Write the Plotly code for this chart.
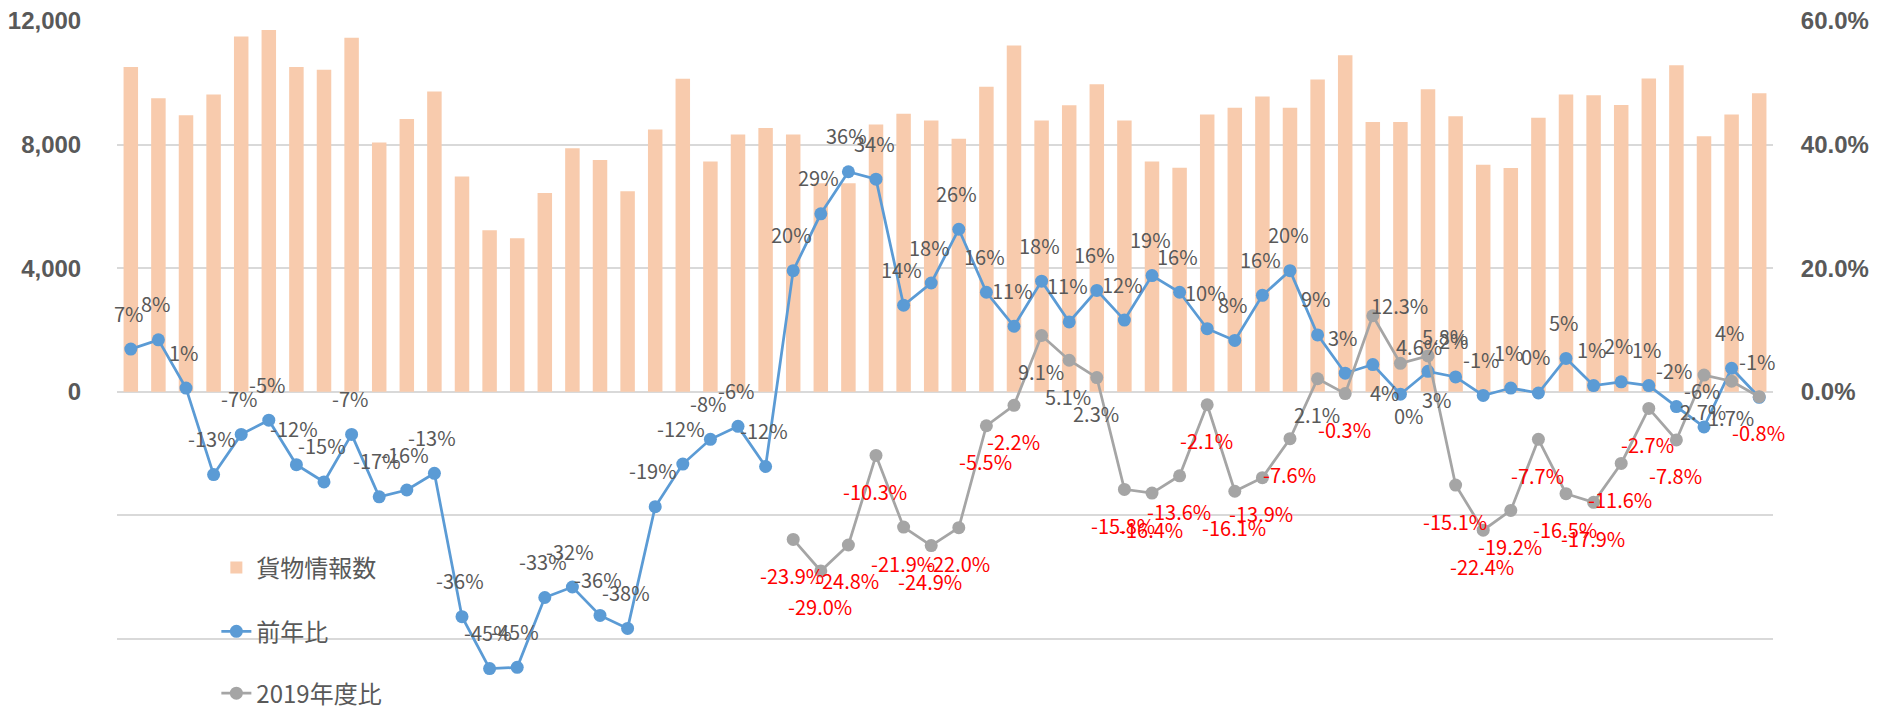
import plotly.graph_objects as go

# ---------------- data ----------------
months = [
    "2019/4", "2019/5", "2019/6", "2019/7", "2019/8", "2019/9", "2019/10", "2019/11", "2019/12", "2020/1", "2020/2", "2020/3",
    "2020/4", "2020/5", "2020/6", "2020/7", "2020/8", "2020/9", "2020/10", "2020/11", "2020/12", "2021/1", "2021/2", "2021/3",
    "2021/4", "2021/5", "2021/6", "2021/7", "2021/8", "2021/9", "2021/10", "2021/11", "2021/12", "2022/1", "2022/2", "2022/3",
    "2022/4", "2022/5", "2022/6", "2022/7", "2022/8", "2022/9", "2022/10", "2022/11", "2022/12", "2023/1", "2023/2", "2023/3",
    "2023/4", "2023/5", "2023/6", "2023/7", "2023/8", "2023/9", "2023/10", "2023/11", "2023/12", "2024/1", "2024/2", "2024/3",
]

cargo_count = [
    10510, 9500, 8950, 9620, 11500, 11710, 10510, 10420, 11460, 8070,
    8830, 9720, 6970, 5230, 4970, 6430, 7880, 7500, 6490, 8490,
    10130, 7450, 8330, 8540, 8330, 6750, 6750, 8650, 9000, 8780,
    8190, 9870, 11210, 8780, 9270, 9950, 8780, 7450, 7250, 8970,
    9190, 9560, 9190, 10110, 10890, 8730, 8730, 9790, 8920, 7350,
    7240, 8870, 9620, 9600, 9280, 10140, 10570, 8270, 8970, 9660,
]

yoy_pct = [
    6.9, 8.4, 0.6, -13.4, -6.9, -4.6, -11.8, -14.6, -6.9, -17.0,
    -15.9, -13.2, -36.4, -44.8, -44.6, -33.3, -31.6, -36.2, -38.3, -18.6,
    -11.7, -7.7, -5.6, -12.1, 19.6, 28.8, 35.6, 34.4, 14.0, 17.6,
    26.3, 16.1, 10.6, 17.9, 11.3, 16.4, 11.6, 18.8, 16.1, 10.2,
    8.3, 15.6, 19.6, 9.2, 3.0, 4.4, -0.4, 3.3, 2.4, -0.6,
    0.6, -0.2, 5.4, 1.0, 1.6, 1.0, -2.4, -5.7, 3.8, -0.9,
]

vs2019_pct = [None] * 24 + [
    -23.9, -29.0, -24.8, -10.3, -21.9, -24.9, -22.0, -5.5, -2.2, 9.1,
    5.1, 2.3, -15.8, -16.4, -13.6, -2.1, -16.1, -13.9, -7.6, 2.1,
    -0.3, 12.3, 4.6, 5.8, -15.1, -22.4, -19.2, -7.7, -16.5, -17.9,
    -11.6, -2.7, -7.8, 2.7, 1.7, -0.8,
]

series_names = ["貨物情報数", "前年比", "2019年度比"]

# ---------------- styles ----------------
BAR_COLOR = "#F8CBAD"
BLUE = "#5B9BD5"
GRAY = "#A5A5A5"
TXT = "#595959"
RED = "#FF0000"
LABEL_FONT = "Noto Sans CJK JP, Noto Sans, sans-serif"
TICK_FONT = "Liberation Sans, Arial, sans-serif"

# label offsets (px): default blue above, gray below; a few moved by hand in the original
blue_label_shift = {45: (12, -28), 46: (9, -21), 47: (9, -28)}
gray_label_shift = {45: (27, 10), 46: (19, 17), 47: (17, 19)}

fig = go.Figure()

fig.add_trace(go.Bar(
    x=months, y=cargo_count, name=series_names[0],
    marker=dict(color=BAR_COLOR, line=dict(width=0)),
    yaxis="y", legend="legend",
))

fig.add_trace(go.Scatter(
    x=months, y=yoy_pct, name=series_names[1], mode="lines+markers",
    line=dict(color=BLUE, width=2.75),
    marker=dict(color=BLUE, size=13),
    yaxis="y2", legend="legend2",
))

fig.add_trace(go.Scatter(
    x=months, y=vs2019_pct, name=series_names[2], mode="lines+markers",
    line=dict(color=GRAY, width=2.75),
    marker=dict(color=GRAY, size=13),
    yaxis="y2", legend="legend3", connectgaps=False,
))

annotations = []
for i, (m, v) in enumerate(zip(months, yoy_pct)):
    dx, dy = blue_label_shift.get(i, (-2, 36))
    annotations.append(dict(
        x=m, y=v, xref="x", yref="y2", text=f"{int(round(v))}%",
        showarrow=False, xshift=dx, yshift=dy,
        font=dict(family=LABEL_FONT, size=20, color=TXT),
    ))
for i, (m, v) in enumerate(zip(months, vs2019_pct)):
    if v is None:
        continue
    dx, dy = gray_label_shift.get(i, (-1, -36))
    annotations.append(dict(
        x=m, y=v, xref="x", yref="y2", text=f"{v:.1f}%",
        showarrow=False, xshift=dx, yshift=dy,
        font=dict(family=LABEL_FONT, size=20, color=RED if v < 0 else TXT),
    ))

left_ticks = [-8000, -4000, 0, 4000, 8000, 12000]
left_text = ["", "", "<b>0</b>", "<b>4,000</b>", "<b>8,000</b>", "<b>12,000</b>"]
right_ticks = [0, 20, 40, 60]
right_text = ["<b>0.0%</b>", "<b>20.0%</b>", "<b>40.0%</b>", "<b>60.0%</b>"]

legend_common = dict(
    xref="paper", yref="paper", x=0.06, xanchor="left",
    bgcolor="rgba(0,0,0,0)", font=dict(family=LABEL_FONT, size=24, color=TXT),
)

fig.update_layout(
    width=1885, height=708,
    margin=dict(l=117, r=112, t=21, b=0, autoexpand=False),
    paper_bgcolor="white", plot_bgcolor="white",
    bargap=0.475,
    showlegend=True,
    xaxis=dict(type="category", range=[-0.5, 59.5], showticklabels=False,
               showgrid=False, zeroline=False, showline=False, ticks="",
               automargin=False),
    yaxis=dict(range=[-10236, 12000], tickvals=left_ticks, ticktext=left_text,
               showgrid=True, gridcolor="#D9D9D9", gridwidth=1.5, zeroline=False,
               showline=False, ticks="outside", ticklen=30, tickcolor="rgba(0,0,0,0)",
               automargin=False,
               tickfont=dict(family=TICK_FONT, size=24, color=TXT)),
    yaxis2=dict(range=[-51.18, 60], overlaying="y", side="right",
                tickvals=right_ticks, ticktext=right_text, showgrid=False,
                zeroline=False, showline=False, ticks="outside", ticklen=22,
                tickcolor="rgba(0,0,0,0)", automargin=False,
                tickfont=dict(family=TICK_FONT, size=24, color=TXT)),
    legend=dict(y=0.204, yanchor="middle", **legend_common),
    legend2=dict(y=0.111, yanchor="middle", **legend_common),
    legend3=dict(y=0.021, yanchor="middle", **legend_common),
    annotations=annotations,
)

fig.write_html(
    "out.html",
    config={"displayModeBar": False},
    post_script="document.body.style.margin='0';document.body.style.overflow='hidden';",
)
